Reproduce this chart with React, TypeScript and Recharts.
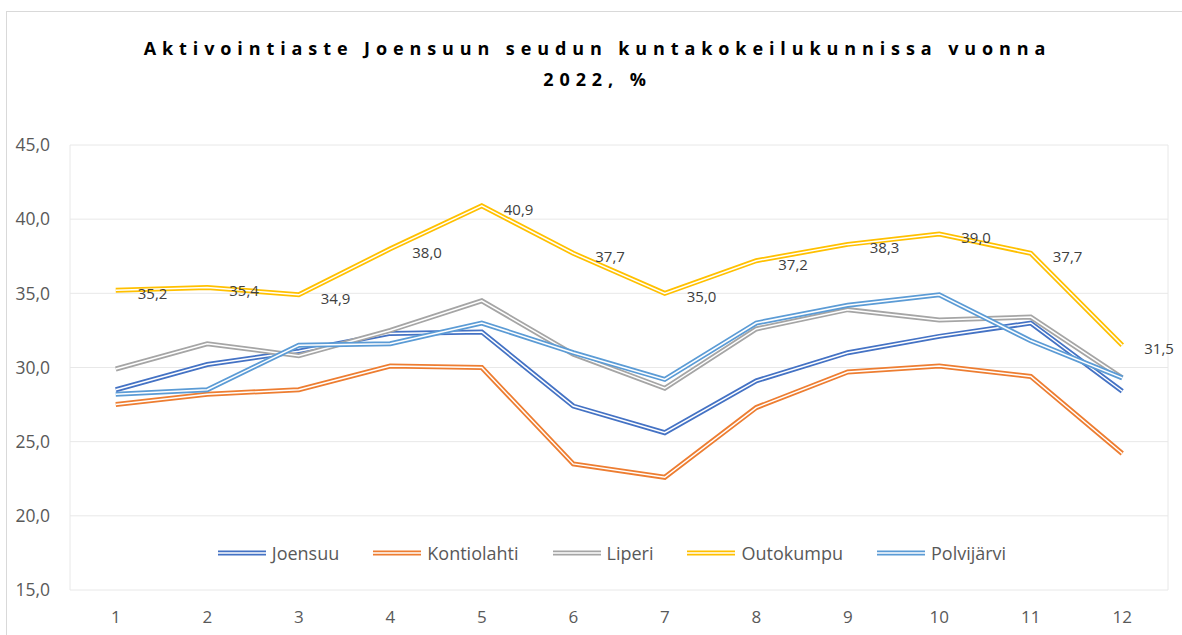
import React from 'react';
import { LineChart, Line, XAxis, YAxis, CartesianGrid, Legend, LabelList } from 'recharts';

// kuukaudet 1-12
const months = [1, 2, 3, 4, 5, 6, 7, 8, 9, 10, 11, 12];
const monthEdges = [0.5, 1.5, 2.5, 3.5, 4.5, 5.5, 6.5, 7.5, 8.5, 9.5, 10.5, 11.5, 12.5];
const yTicks = [15, 20, 25, 30, 35, 40, 45];

const joensuu = [28.5, 30.2, 31.1, 32.3, 32.4, 27.4, 25.6, 29.1, 31.0, 32.1, 33.0, 28.4];
const kontiolahti = [27.5, 28.2, 28.5, 30.1, 30.0, 23.5, 22.6, 27.3, 29.7, 30.1, 29.4, 24.2];
const liperi = [29.9, 31.6, 30.8, 32.5, 34.5, 30.9, 28.6, 32.6, 33.9, 33.2, 33.4, 29.3];
const outokumpu = [35.2, 35.4, 34.9, 38.0, 40.9, 37.7, 35.0, 37.2, 38.3, 39.0, 37.7, 31.5];
const polvijarvi = [28.2, 28.5, 31.5, 31.6, 33.0, 31.0, 29.2, 33.0, 34.2, 34.9, 31.8, 29.3];

const series = [
  { key: 'Joensuu', color: '#4472C4', values: joensuu },
  { key: 'Kontiolahti', color: '#ED7D31', values: kontiolahti },
  { key: 'Liperi', color: '#A5A5A5', values: liperi },
  { key: 'Outokumpu', color: '#FFC000', values: outokumpu },
  { key: 'Polvijärvi', color: '#5B9BD5', values: polvijarvi },
];

const data = months.map((m, i) => {
  const row: any = { m };
  series.forEach((s) => { row[s.key] = s.values[i]; });
  return row;
});

const fi = (v: number) => v.toFixed(1).replace('.', ',');
const font = '"Open Sans", "Noto Sans", sans-serif';

const OutoLabel = (props: any) => {
  const { x, y, value } = props;
  return (
    <text x={x + 22} y={y + 5} fill="#404040" fontSize={15} fontFamily={font} dominantBaseline="middle">
      {fi(value)}
    </text>
  );
};

const DoubleLegend = () => (
  <div style={{ display: 'flex', justifyContent: 'center', fontFamily: font, fontSize: 18, color: '#595959', marginLeft: -14 }}>
    {series.map((s, i) => (
      <div key={s.key} style={{ display: 'flex', alignItems: 'center', marginRight: i < series.length - 1 ? 34 : 0 }}>
        <svg width={48} height={8} style={{ marginRight: 6 }}>
          <line x1={0} y1={4} x2={48} y2={4} stroke={s.color} strokeWidth={5} />
          <line x1={0} y1={4} x2={48} y2={4} stroke="#fff" strokeWidth={1.4} />
        </svg>
        <span>{s.key}</span>
      </div>
    ))}
  </div>
);

export default function App() {
  return (
    <div style={{ position: 'absolute', left: 0, top: 0, width: 1182, height: 635, background: '#fff', overflow: 'hidden' }}>
      <div style={{ position: 'absolute', left: 6, top: 11, width: 1200, height: 700, border: '1px solid #D9D9D9' }} />
      <div
        style={{
          position: 'absolute', left: 0, top: 33, width: 1195, textAlign: 'center',
          fontFamily: font, fontWeight: 700, fontSize: 18, letterSpacing: 5.9, lineHeight: '31px', color: '#000',
        }}
      >
        Aktivointiaste Joensuun seudun kuntakokeilukunnissa vuonna
        <br />
        2022, %
      </div>
      <div style={{ position: 'absolute', left: 0, top: 0 }}>
        <LineChart width={1182} height={635} data={data} margin={{ top: 145, right: 14, bottom: 5, left: 10 }}>
          <CartesianGrid xAxisId="grid" stroke="#E8E8E8" strokeWidth={1} />
          <XAxis
            xAxisId="grid"
            dataKey="m"
            type="number"
            domain={[0.5, 12.5]}
            ticks={monthEdges}
            height={0}
            tick={false}
            tickSize={8}
            tickLine={{ stroke: '#D9D9D9' }}
            axisLine={{ stroke: '#D9D9D9', strokeWidth: 1.5 }}
            allowDataOverflow
          />
          <XAxis
            xAxisId="main"
            dataKey="m"
            type="number"
            domain={[0.5, 12.5]}
            ticks={months}
            interval={0}
            axisLine={false}
            tickLine={false}
            tickMargin={15}
            height={40}
            tick={{ fill: '#595959', fontSize: 17, fontFamily: font }}
          />
          <YAxis
            domain={[15, 45]}
            ticks={yTicks}
            width={60}
            axisLine={false}
            tickLine={false}
            tickMargin={14}
            tickFormatter={fi}
            tick={{ fill: '#595959', fontSize: 17.5, fontFamily: font }}
          />
          <Legend
            verticalAlign="middle"
            align="center"
            content={<DoubleLegend />}
            wrapperStyle={{ top: 541, left: 70, width: 1098 }}
          />
          {series.flatMap((s) => [
            <Line
              key={s.key + '-c'}
              xAxisId="main"
              dataKey={s.key}
              stroke={s.color}
              strokeWidth={5}
              dot={false}
              isAnimationActive={false}
              strokeLinejoin="miter"
            >
              {s.key === 'Outokumpu' && <LabelList dataKey={s.key} content={<OutoLabel />} />}
            </Line>,
            <Line
              key={s.key + '-w'}
              xAxisId="main"
              dataKey={s.key}
              stroke="#ffffff"
              strokeWidth={1.5}
              dot={false}
              legendType="none"
              isAnimationActive={false}
              strokeLinejoin="miter"
            />,
          ])}
        </LineChart>
      </div>
    </div>
  );
}
